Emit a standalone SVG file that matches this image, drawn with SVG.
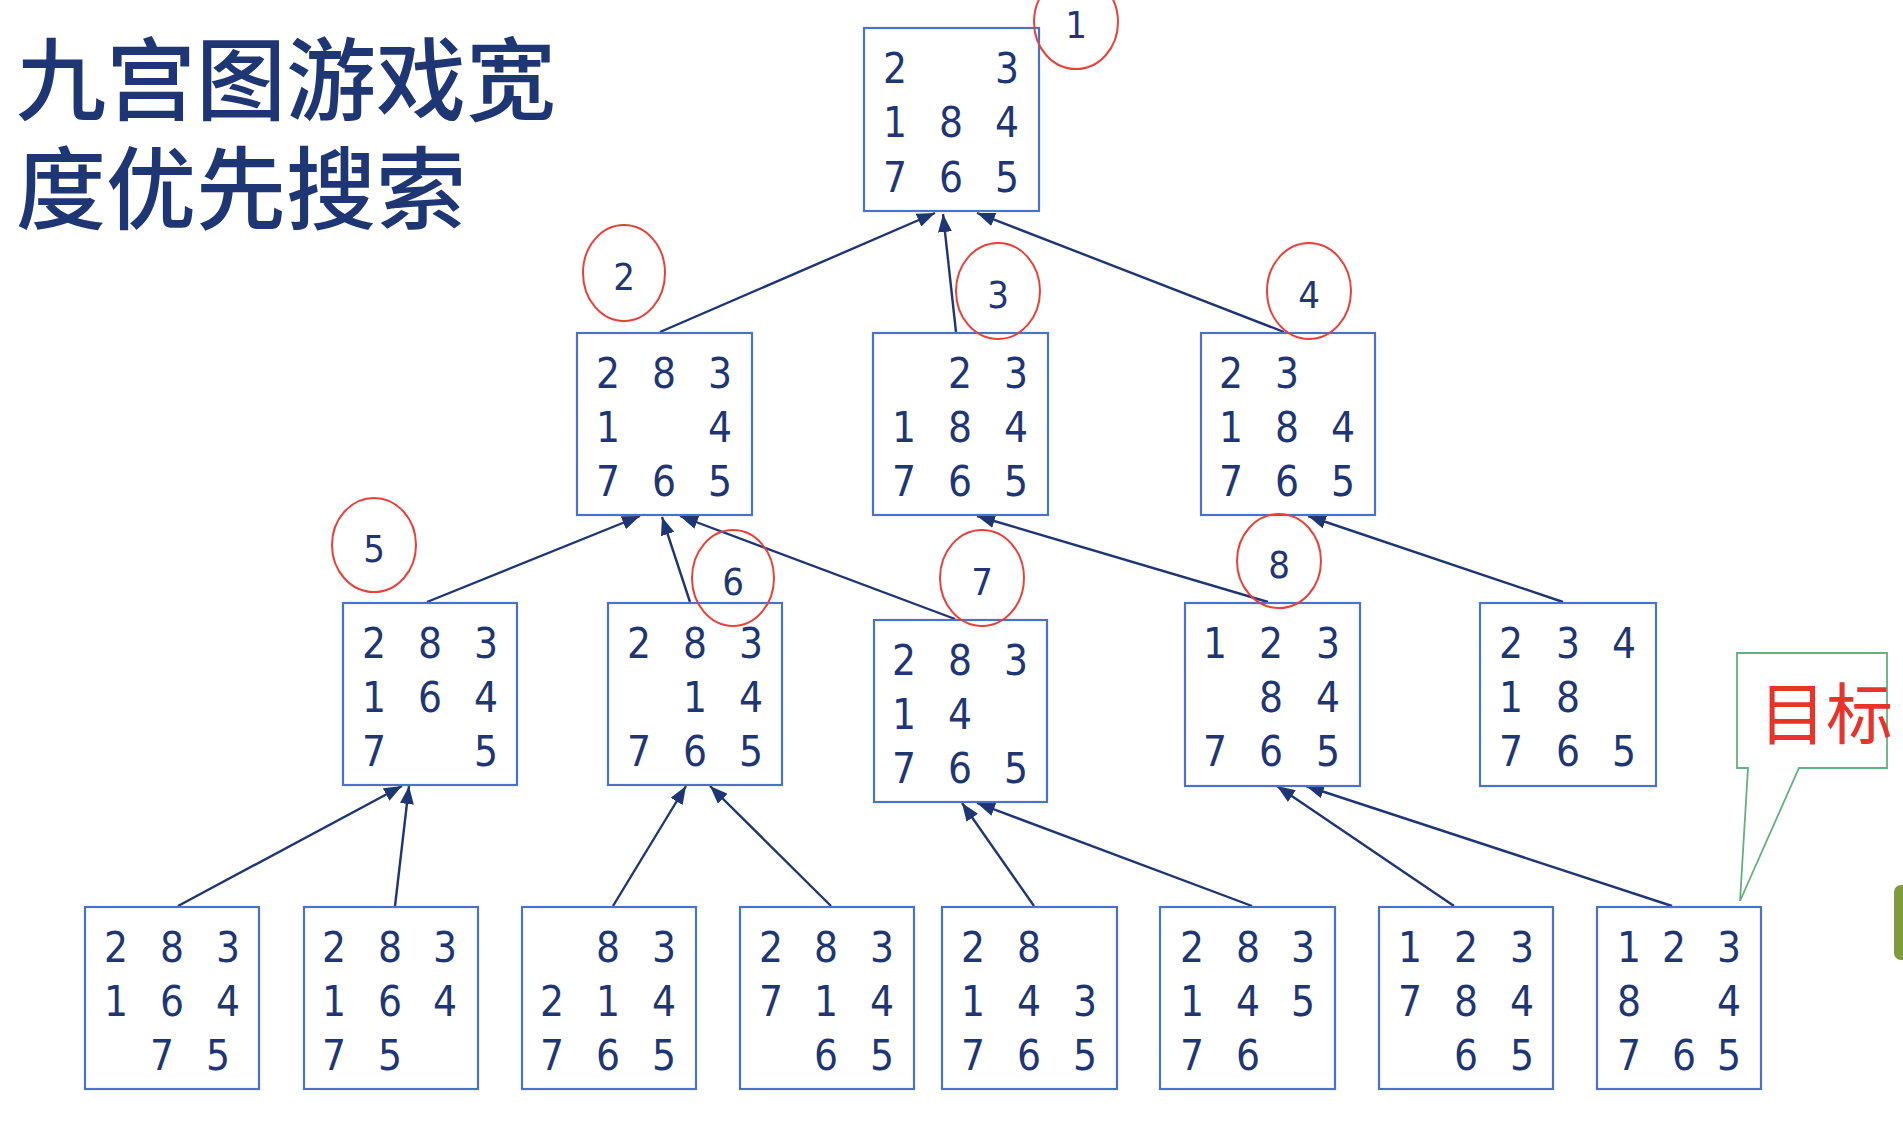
<svg xmlns="http://www.w3.org/2000/svg" width="1903" height="1121" viewBox="0 0 1903 1121">
<style>
.bx{fill:#ffffff;stroke:#4a72c8;stroke-width:2.2}
.d{font-family:"Liberation Sans Narrow","DejaVu Sans Condensed","Liberation Sans",sans-serif;font-size:42px;fill:#1f3674;text-anchor:middle}
.c{fill:none;stroke:#e8413a;stroke-width:2}
.cl{font-family:"Liberation Sans Narrow","DejaVu Sans Condensed","Liberation Sans",sans-serif;font-size:38px;fill:#1f3674;text-anchor:middle}
.ln{stroke:#1f3674;stroke-width:2.4;fill:none;marker-end:url(#ah)}
.title{font-family:"Noto Sans CJK SC",sans-serif;font-size:90px;font-weight:500;fill:#1f3674}
</style>
<defs>
<marker id="ah" viewBox="0 0 18 14" refX="18" refY="7" markerWidth="18" markerHeight="14" markerUnits="userSpaceOnUse" orient="auto">
<path d="M0,0 L18,7 L0,14 z" fill="#1f3674"/>
</marker>
</defs>
<rect width="1903" height="1121" fill="#ffffff"/>

<g id="title">
<text class="title" x="16" y="113">九宫图游戏宽</text>
<text class="title" x="16" y="222">度优先搜索</text>
</g>

<g id="connectors">
<line class="ln" x1="660" y1="332" x2="935" y2="213"/>
<line class="ln" x1="956" y1="332" x2="943" y2="214"/>
<line class="ln" x1="1284" y1="332" x2="977" y2="213"/>
<line class="ln" x1="427" y1="602" x2="640" y2="516"/>
<line class="ln" x1="690" y1="602" x2="662" y2="517"/>
<line class="ln" x1="955" y1="619" x2="680" y2="516"/>
<line class="ln" x1="1268" y1="602" x2="977" y2="516"/>
<line class="ln" x1="1563" y1="602" x2="1308" y2="516"/>
<line class="ln" x1="178" y1="906" x2="402" y2="786"/>
<line class="ln" x1="395" y1="906" x2="409" y2="786"/>
<line class="ln" x1="613" y1="906" x2="686" y2="786"/>
<line class="ln" x1="831" y1="906" x2="710" y2="786"/>
<line class="ln" x1="1034" y1="906" x2="962" y2="803"/>
<line class="ln" x1="1252" y1="906" x2="977" y2="803"/>
<line class="ln" x1="1454" y1="906" x2="1277" y2="786"/>
<line class="ln" x1="1672" y1="906" x2="1306" y2="786"/>
</g>

<g id="n1">
<rect class="bx" x="864" y="28" width="175" height="183"/>
<text class="d" x="895" y="83">2</text><text class="d" x="1007" y="83">3</text>
<text class="d" x="895" y="137">1</text><text class="d" x="951" y="137">8</text><text class="d" x="1007" y="137">4</text>
<text class="d" x="895" y="192">7</text><text class="d" x="951" y="192">6</text><text class="d" x="1007" y="192">5</text>
</g>

<g id="n2">
<rect class="bx" x="577" y="333" width="175" height="182"/>
<text class="d" x="608" y="388">2</text><text class="d" x="664" y="388">8</text><text class="d" x="720" y="388">3</text>
<text class="d" x="608" y="442">1</text><text class="d" x="720" y="442">4</text>
<text class="d" x="608" y="496">7</text><text class="d" x="664" y="496">6</text><text class="d" x="720" y="496">5</text>
</g>

<g id="n3">
<rect class="bx" x="873" y="333" width="175" height="182"/>
<text class="d" x="960" y="388">2</text><text class="d" x="1016" y="388">3</text>
<text class="d" x="904" y="442">1</text><text class="d" x="960" y="442">8</text><text class="d" x="1016" y="442">4</text>
<text class="d" x="904" y="496">7</text><text class="d" x="960" y="496">6</text><text class="d" x="1016" y="496">5</text>
</g>

<g id="n4">
<rect class="bx" x="1201" y="333" width="174" height="182"/>
<text class="d" x="1231" y="388">2</text><text class="d" x="1287" y="388">3</text>
<text class="d" x="1231" y="442">1</text><text class="d" x="1287" y="442">8</text><text class="d" x="1343" y="442">4</text>
<text class="d" x="1231" y="496">7</text><text class="d" x="1287" y="496">6</text><text class="d" x="1343" y="496">5</text>
</g>

<g id="n5">
<rect class="bx" x="343" y="603" width="174" height="182"/>
<text class="d" x="374" y="658">2</text><text class="d" x="430" y="658">8</text><text class="d" x="486" y="658">3</text>
<text class="d" x="374" y="712">1</text><text class="d" x="430" y="712">6</text><text class="d" x="486" y="712">4</text>
<text class="d" x="374" y="766">7</text><text class="d" x="486" y="766">5</text>
</g>

<g id="n6">
<rect class="bx" x="608" y="603" width="174" height="182"/>
<text class="d" x="639" y="658">2</text><text class="d" x="695" y="658">8</text><text class="d" x="751" y="658">3</text>
<text class="d" x="695" y="712">1</text><text class="d" x="751" y="712">4</text>
<text class="d" x="639" y="766">7</text><text class="d" x="695" y="766">6</text><text class="d" x="751" y="766">5</text>
</g>

<g id="n7">
<rect class="bx" x="874" y="620" width="173" height="182"/>
<text class="d" x="904" y="675">2</text><text class="d" x="960" y="675">8</text><text class="d" x="1016" y="675">3</text>
<text class="d" x="904" y="729">1</text><text class="d" x="960" y="729">4</text>
<text class="d" x="904" y="783">7</text><text class="d" x="960" y="783">6</text><text class="d" x="1016" y="783">5</text>
</g>

<g id="n8">
<rect class="bx" x="1185" y="603" width="175" height="183"/>
<text class="d" x="1215" y="658">1</text><text class="d" x="1271" y="658">2</text><text class="d" x="1328" y="658">3</text>
<text class="d" x="1271" y="712">8</text><text class="d" x="1328" y="712">4</text>
<text class="d" x="1215" y="766">7</text><text class="d" x="1271" y="766">6</text><text class="d" x="1328" y="766">5</text>
</g>

<g id="n9">
<rect class="bx" x="1480" y="603" width="176" height="183"/>
<text class="d" x="1511" y="658">2</text><text class="d" x="1568" y="658">3</text><text class="d" x="1624" y="658">4</text>
<text class="d" x="1511" y="712">1</text><text class="d" x="1568" y="712">8</text>
<text class="d" x="1511" y="766">7</text><text class="d" x="1568" y="766">6</text><text class="d" x="1624" y="766">5</text>
</g>

<g id="b1">
<rect class="bx" x="85" y="907" width="174" height="182"/>
<text class="d" x="116" y="962">2</text><text class="d" x="172" y="962">8</text><text class="d" x="228" y="962">3</text>
<text class="d" x="116" y="1016">1</text><text class="d" x="172" y="1016">6</text><text class="d" x="228" y="1016">4</text>
<text class="d" x="162" y="1070">7</text><text class="d" x="218" y="1070">5</text>
</g>

<g id="b2">
<rect class="bx" x="304" y="907" width="174" height="182"/>
<text class="d" x="334" y="962">2</text><text class="d" x="390" y="962">8</text><text class="d" x="445" y="962">3</text>
<text class="d" x="334" y="1016">1</text><text class="d" x="390" y="1016">6</text><text class="d" x="445" y="1016">4</text>
<text class="d" x="334" y="1070">7</text><text class="d" x="390" y="1070">5</text>
</g>

<g id="b3">
<rect class="bx" x="522" y="907" width="174" height="182"/>
<text class="d" x="608" y="962">8</text><text class="d" x="664" y="962">3</text>
<text class="d" x="552" y="1016">2</text><text class="d" x="608" y="1016">1</text><text class="d" x="664" y="1016">4</text>
<text class="d" x="552" y="1070">7</text><text class="d" x="608" y="1070">6</text><text class="d" x="664" y="1070">5</text>
</g>

<g id="b4">
<rect class="bx" x="740" y="907" width="174" height="182"/>
<text class="d" x="771" y="962">2</text><text class="d" x="826" y="962">8</text><text class="d" x="882" y="962">3</text>
<text class="d" x="771" y="1016">7</text><text class="d" x="826" y="1016">1</text><text class="d" x="882" y="1016">4</text>
<text class="d" x="826" y="1070">6</text><text class="d" x="882" y="1070">5</text>
</g>

<g id="b5">
<rect class="bx" x="942" y="907" width="175" height="182"/>
<text class="d" x="973" y="962">2</text><text class="d" x="1029" y="962">8</text>
<text class="d" x="973" y="1016">1</text><text class="d" x="1029" y="1016">4</text><text class="d" x="1085" y="1016">3</text>
<text class="d" x="973" y="1070">7</text><text class="d" x="1029" y="1070">6</text><text class="d" x="1085" y="1070">5</text>
</g>

<g id="b6">
<rect class="bx" x="1160" y="907" width="175" height="182"/>
<text class="d" x="1192" y="962">2</text><text class="d" x="1248" y="962">8</text><text class="d" x="1303" y="962">3</text>
<text class="d" x="1192" y="1016">1</text><text class="d" x="1248" y="1016">4</text><text class="d" x="1303" y="1016">5</text>
<text class="d" x="1192" y="1070">7</text><text class="d" x="1248" y="1070">6</text>
</g>

<g id="b7">
<rect class="bx" x="1379" y="907" width="174" height="182"/>
<text class="d" x="1410" y="962">1</text><text class="d" x="1466" y="962">2</text><text class="d" x="1522" y="962">3</text>
<text class="d" x="1410" y="1016">7</text><text class="d" x="1466" y="1016">8</text><text class="d" x="1522" y="1016">4</text>
<text class="d" x="1466" y="1070">6</text><text class="d" x="1522" y="1070">5</text>
</g>

<g id="b8">
<rect class="bx" x="1597" y="907" width="164" height="182"/>
<text class="d" x="1629" y="962">1</text><text class="d" x="1674" y="962">2</text><text class="d" x="1729" y="962">3</text>
<text class="d" x="1629" y="1016">8</text><text class="d" x="1729" y="1016">4</text>
<text class="d" x="1629" y="1070">7</text><text class="d" x="1684" y="1070">6</text><text class="d" x="1729" y="1070">5</text>
</g>

<g id="order-marks">
<ellipse class="c" cx="1076" cy="22" rx="42" ry="47"/><text class="cl" x="1076" y="38">1</text>
<ellipse class="c" cx="624" cy="273" rx="41" ry="48"/><text class="cl" x="624" y="290">2</text>
<ellipse class="c" cx="998" cy="291" rx="42" ry="48"/><text class="cl" x="998" y="308">3</text>
<ellipse class="c" cx="1309" cy="291" rx="42" ry="48"/><text class="cl" x="1309" y="308">4</text>
<ellipse class="c" cx="374" cy="545" rx="42" ry="47"/><text class="cl" x="374" y="562">5</text>
<ellipse class="c" cx="733" cy="578" rx="41" ry="48"/><text class="cl" x="733" y="595">6</text>
<ellipse class="c" cx="982" cy="578" rx="42" ry="48"/><text class="cl" x="982" y="595">7</text>
<ellipse class="c" cx="1279" cy="561" rx="42" ry="47"/><text class="cl" x="1279" y="578">8</text>
</g>

<g id="goal-callout">
<path d="M1737,653 H1887 V768 H1799 L1740,901 L1748,768 H1737 Z" fill="#ffffff" stroke="#62b07f" stroke-width="1.8"/>
<text x="1759" y="739" font-family="Noto Sans CJK SC, sans-serif" font-size="67px" fill="#e8332a">目标</text>
</g>

<rect x="1894" y="885" width="30" height="75" rx="7" fill="#7f9c3c"/>
</svg>
